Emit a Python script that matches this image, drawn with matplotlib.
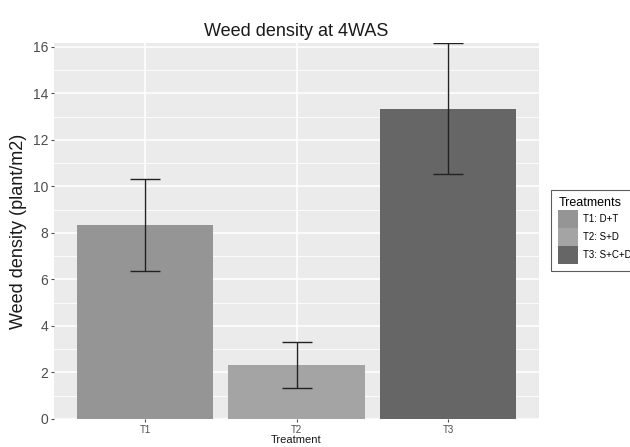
import matplotlib
matplotlib.use("Agg")
import matplotlib.pyplot as plt
from matplotlib.patches import Patch
import numpy as np

plt.rcParams['font.family'] = ['Liberation Sans', 'DejaVu Sans']

# Treatment means and error (half-width) of weed density
treatments = ["T1", "T2", "T3"]
legend_labels = ["T1: D+T", "T2: S+D", "T3: S+C+D"]
density = [8.33, 2.33, 13.33]
error = [1.99, 1.0, 2.81]
bar_colors = ["#959595", "#a4a4a4", "#666666"]
y_ticks = [0, 2, 4, 6, 8, 10, 12, 14, 16]

fig = plt.figure(figsize=(6.3, 4.47), dpi=100)
ax = fig.add_axes([54/630, 1 - 419/447, (539 - 54)/630, (419 - 43)/447])
ax.set_facecolor("#ebebeb")

x = np.arange(1, len(treatments) + 1)

# grid: major + minor, white, ggplot-like
for yv in np.arange(1, 17, 2):
    ax.axhline(yv, color="white", lw=0.6, zorder=0.5)
for yv in y_ticks:
    ax.axhline(yv, color="white", lw=1.1, zorder=0.6)
for xv in x:
    ax.axvline(xv, color="white", lw=1.1, zorder=0.6)

ax.bar(x, density, width=0.9, color=bar_colors, zorder=2)
ax.errorbar(x, density, yerr=error, fmt="none", ecolor="#222222",
            elinewidth=1.0, capsize=10.8, capthick=1.0, zorder=3)

ax.set_xlim(0.4, 3.6)
ax.set_ylim(0, 16.16)
ax.set_xticks(x)
ax.set_xticklabels(treatments)
ax.set_yticks(y_ticks)
ax.tick_params(axis="y", labelsize=10, colors="#4d4d4d", length=2.5, width=0.8, pad=1.5)
ax.tick_params(axis="x", labelsize=7, colors="#4d4d4d", length=2.5, width=0.8, pad=2)
for lab in ax.get_xticklabels() + ax.get_yticklabels():
    lab.set_color("#4d4d4d")
for s in ax.spines.values():
    s.set_visible(False)

ax.set_ylabel("Weed density (plant/m2)", fontsize=13, color="#1a1a1a", labelpad=4)
ax.set_xlabel("Treatment", fontsize=8, color="#1a1a1a", labelpad=0)
ax.set_title("Weed density at 4WAS", fontsize=13, color="#1a1a1a", pad=5)

handles = [Patch(facecolor=c, edgecolor="none") for c in bar_colors]
leg = fig.legend(handles, legend_labels, title="Treatments",
                 loc="upper left", bbox_to_anchor=(551/630, 1 - 190/447),
                 bbox_transform=fig.transFigure,
                 fontsize=7, title_fontsize=9, frameon=True, fancybox=False,
                 edgecolor="#333333", handlelength=2.06, handleheight=2.47,
                 labelspacing=0.03, borderpad=0.75, handletextpad=0.45,
                 borderaxespad=0)
leg.get_frame().set_linewidth(0.8)
leg._legend_box.align = "left"

fig.savefig("out.png", dpi=100)
